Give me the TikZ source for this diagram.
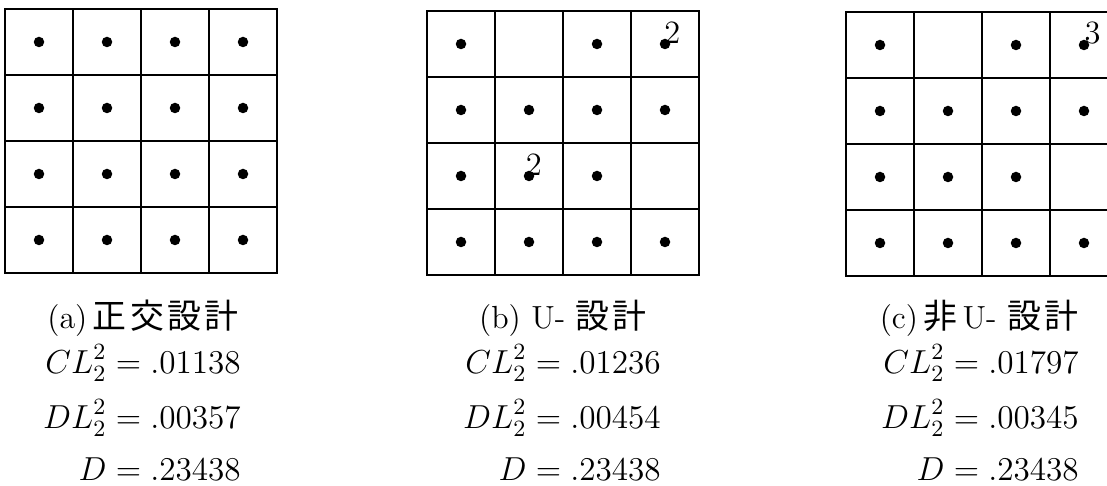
\RequirePackage{fix-cm}
\documentclass[tikz,border=0pt]{standalone}
\usepackage{amsmath}
\usepackage{fontspec}
\newfontfamily\jafont[Scale=1.06,LetterSpace=10]{Noto Sans CJK JP}
\usetikzlibrary{positioning}

\begin{document}
\begin{tikzpicture}[x=0.4pt,y=0.4pt]
\tikzset{pt/.style={circle,fill,inner sep=0pt,minimum size=4.2pt},
  mult/.style={anchor=south west,inner sep=0pt,font=\fontsize{13}{15}\selectfont},
  caption/.style={anchor=base,font=\fontsize{12.8}{15}\selectfont},
  crit/.style={anchor=north,inner sep=0pt,font=\fontsize{13.3}{15.6}\selectfont}}
\useasboundingbox (0,0) rectangle (1107,486);

% the three 4x4 designs, cells 68 wide and 66 high
\foreach \d/\xo/\yo in {a/5/213, b/427/211, c/846/210}
{
    \draw[line width=1.1pt] (\xo,\yo) rectangle (\xo+272,\yo+264);
    \foreach \i in {1,2,3}
    {
        \draw[line width=1.1pt] (\xo+68*\i,\yo) -- (\xo+68*\i,\yo+264);
        \draw[line width=1.1pt] (\xo,\yo+66*\i) -- (\xo+272,\yo+66*\i);
    }
}
% the runs: (a) fills every cell, (b) and (c) leave two cells empty
\foreach \i in {1,...,4}
    \foreach \j in {1,...,4}
        \node[pt] (a\i\j) at (5+68*\i-34,213+297-66*\j) {};
\foreach \d/\xo/\yo in {b/427/211, c/846/210}
    \foreach \i/\j in {1/1,3/1,4/1,1/2,2/2,3/2,4/2,1/3,2/3,3/3,1/4,2/4,3/4,4/4}
        \node[pt] (\d\i\j) at (\xo+68*\i-34,\yo+297-66*\j) {};
% repeated runs
\node[mult,xshift=-0.5pt] (bmulta) at (b41.center) {2};
\node[mult,xshift=-1.5pt] (bmultb) at (b23.center) {2};
\node[mult] (cmult) at (c41.center) {3};

% captions and discrepancies
\node[caption] (capa) at (143,157) {(a)\,{\jafont 正交設計}};
\node[caption] (capb) at (563,157) {(b) U- {\jafont 設計}};
\node[caption] (capc) at (979,157) {(c)\,{\jafont 非}\,U- {\jafont 設計}};
\foreach \d/\xc/\cl/\dl in {a/142/.01138/.00357, b/562/.01236/.00454, c/980/.01797/.00345}
    \node[crit] (crit\d) at (\xc,142)
        {$\begin{aligned} CL_2^2 &= \cl\\[2pt] DL_2^2 &= \dl\\[2pt] D &= .23438\end{aligned}$};
\end{tikzpicture}
\end{document}
